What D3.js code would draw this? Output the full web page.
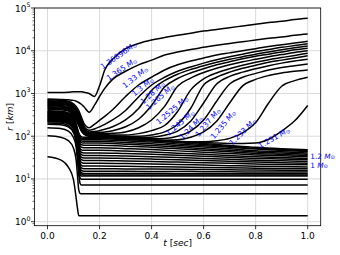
<!DOCTYPE html>
<html>
<head>
<meta charset="utf-8">
<title>Shell radii</title>
<script src="https://d3js.org/d3.v7.min.js"></script>
<style>
  body { margin: 0; background: #fff; }
  text { font-family: "DejaVu Sans", sans-serif; }
</style>
</head>
<body>
<script>
// time samples [sec]
var tOuter = [0, 0.05, 0.08, 0.1, 0.11, 0.12, 0.13, 0.14, 0.16, 0.18, 0.2, 0.22, 0.25, 0.3, 0.35, 0.4,
              0.45, 0.5, 0.55, 0.6, 0.65, 0.7, 0.75, 0.8, 0.85, 0.9, 0.95, 1.0];
var tInner = [0, 0.05, 0.08, 0.1, 0.11, 0.115, 0.12, 0.125, 0.13, 0.14, 0.16, 0.2, 0.3, 0.4, 0.5, 0.6,
              0.7, 0.8, 0.9, 1.0];

// outer shells that get ejected, radius in km (outermost first)
var outerShells = [
  [1050, 1050, 1070, 1100, 1100, 1100, 1100, 1070, 1000, 850, 1510, 3550, 6300, 11200, 14800, 17800, 20400, 22900, 25700, 28800, 31600, 34700, 38000, 41700, 45700, 49000, 53700, 57500],
  [740, 725, 710, 690, 660, 615, 560, 490, 365, 525, 850, 1320, 2140, 3310, 4680, 6030, 7940, 9330, 10700, 12000, 13500, 14800, 16200, 17800, 19500, 20900, 22900, 24500],
  [710, 690, 660, 575, 500, 400, 280, 200, 158, 190, 235, 290, 415, 850, 1580, 2400, 3550, 4680, 5750, 6760, 7940, 8910, 10000, 11200, 12600, 13800, 15100, 16600],
  [675, 660, 630, 535, 455, 355, 250, 178, 138, 148, 166, 190, 240, 400, 830, 1580, 2400, 3310, 4170, 5130, 6170, 7240, 8320, 9550, 10700, 12000, 13200, 14500],
  [645, 630, 600, 500, 425, 330, 230, 158, 126, 129, 135, 145, 166, 240, 445, 1180, 2000, 2820, 3630, 4470, 5370, 6310, 7240, 8320, 9330, 10500, 11700, 12900],
  [615, 605, 575, 470, 400, 300, 210, 148, 120, 120, 123, 126, 135, 166, 250, 525, 1410, 2240, 3020, 3800, 4680, 5500, 6460, 7410, 8320, 9330, 10500, 11500],
  [590, 575, 550, 435, 365, 275, 190, 138, 117, 115, 115, 115, 117, 126, 158, 240, 500, 1480, 2290, 3090, 3890, 4680, 5500, 6310, 7240, 8130, 9120, 10000],
  [560, 550, 525, 405, 340, 257, 178, 132, 115, 112, 110, 110, 107, 107, 115, 135, 178, 380, 1200, 2190, 3020, 3800, 4570, 5370, 6170, 6920, 7760, 8710],
  [537, 525, 500, 380, 316, 240, 166, 126, 112, 110, 107, 105, 102, 100, 100, 107, 126, 190, 445, 1580, 2400, 3160, 3890, 4570, 5370, 6030, 6760, 7590],
  [513, 500, 468, 355, 295, 224, 158, 123, 110, 107, 105, 102, 100, 95, 93, 95, 105, 132, 224, 600, 1660, 2510, 3160, 3800, 4470, 5130, 5750, 6310],
  [490, 480, 447, 330, 275, 209, 151, 120, 107, 105, 102, 100, 98, 93, 89, 87, 89, 100, 132, 240, 660, 1660, 2400, 2950, 3550, 4070, 4470, 4900],
  [468, 457, 427, 316, 257, 200, 145, 117, 105, 102, 100, 98, 95, 91, 87, 83, 81, 83, 95, 126, 224, 600, 1510, 2140, 2630, 3020, 3310, 3550],
  [447, 437, 407, 295, 240, 186, 138, 115, 102, 100, 98, 95, 93, 89, 85, 81, 78, 76, 74, 74, 78, 89, 120, 209, 600, 1480, 2000, 2400],
  [427, 417, 389, 282, 229, 178, 132, 112, 100, 98, 95, 93, 91, 87, 83, 79, 76, 74, 72, 71, 69, 68, 68, 69, 85, 132, 229, 525]
];

// inner shells that stay bound, radius in km (innermost first)
var innerShells = [
  [33, 28, 19, 9.5, 3.6, 2.1, 1.38, 1.38, 1.38, 1.38, 1.38, 1.38, 1.38, 1.38, 1.38, 1.38, 1.38, 1.38, 1.38, 1.38],
  [102, 95, 79, 52, 28, 12.6, 5.6, 4.6, 4.5, 4.5, 4.5, 4.5, 4.5, 4.5, 4.5, 4.5, 4.5, 4.5, 4.5, 4.5],
  [158, 151, 132, 93, 56, 28, 12.6, 7.9, 7.2, 7.2, 7.2, 7.2, 7.2, 7.2, 7.2, 7.2, 7.2, 7.2, 7.2, 7.2],
  [191, 186, 166, 120, 76, 40, 17.8, 10.7, 9.8, 9.8, 9.8, 9.8, 9.8, 9.8, 9.8, 9.8, 9.8, 9.8, 9.8, 9.8],
  [204, 200, 178, 132, 85, 48, 21.4, 12.6, 11.7, 11.7, 11.7, 11.7, 11.7, 11.7, 11.7, 11.7, 11.7, 11.7, 11.7, 11.7],
  [219, 214, 195, 148, 71, 38, 21.4, 15.1, 12.9, 12.3, 12.3, 12.3, 12.3, 12.3, 12.3, 12.3, 12.3, 12.3, 12.3, 12.3],
  [226, 221, 202, 153, 74, 40, 22.9, 16.4, 14.1, 13.5, 13.5, 13.5, 13.5, 13.5, 13.3, 13.3, 13.2, 13.2, 13.2, 13.2],
  [234, 229, 209, 158, 78, 44, 25.1, 18.2, 15.8, 15.1, 15.1, 15.1, 15.1, 15.0, 14.9, 14.8, 14.7, 14.6, 14.5, 14.5],
  [243, 237, 216, 164, 83, 48, 28.5, 20.9, 18.2, 17.4, 17.4, 17.4, 17.2, 17.1, 16.8, 16.6, 16.4, 16.1, 16.0, 15.8],
  [251, 245, 224, 170, 89, 52, 32, 23.7, 20.9, 20.0, 20.0, 20.0, 19.7, 19.4, 19.0, 18.6, 18.2, 17.9, 17.6, 17.4],
  [260, 254, 232, 176, 95, 58, 36.3, 27.5, 24.5, 23.4, 23.4, 23.4, 23.0, 22.5, 21.8, 21.1, 20.5, 19.9, 19.5, 19.1],
  [269, 263, 240, 182, 102, 63, 40.7, 31.6, 28.2, 26.9, 26.9, 26.9, 26.3, 25.7, 24.8, 24.0, 23.2, 22.4, 21.9, 21.4],
  [279, 272, 248, 188, 110, 69, 45.7, 35.5, 32.4, 30.9, 30.9, 30.9, 30.1, 29.2, 28.1, 26.9, 25.8, 24.8, 24.1, 23.4],
  [288, 282, 257, 195, 117, 76, 51, 40.7, 37.2, 35.5, 35.5, 35.5, 34.4, 33.3, 31.7, 30.2, 28.8, 27.4, 26.5, 25.7],
  [299, 292, 266, 202, 126, 83, 58, 46.2, 42.2, 40.7, 40.7, 40.7, 39.3, 37.8, 35.8, 33.9, 32.1, 30.3, 29.2, 28.2],
  [309, 302, 275, 209, 133, 91, 65, 52, 48, 46.8, 46.8, 46.8, 44.8, 42.9, 40.1, 37.6, 35.2, 33.0, 31.6, 30.2],
  [320, 313, 285, 216, 141, 100, 72, 60, 55, 53.7, 53.7, 53.7, 51.2, 48.8, 45.4, 42.2, 39.3, 36.5, 34.8, 33.1],
  [331, 324, 295, 224, 151, 110, 81, 68, 63, 61.7, 61.7, 61.7, 58.3, 55.2, 50.8, 46.8, 43.1, 39.6, 37.5, 35.5],
  [343, 335, 305, 232, 162, 120, 90, 76, 71, 69, 69, 69, 65, 61, 56, 51, 47, 43, 40.4, 38],
  [355, 347, 316, 240, 170, 127, 98, 83, 78, 76, 76, 76, 71, 67, 61, 56, 51, 46, 43.4, 40.7],
  [367, 359, 327, 248, 178, 135, 106, 91, 85, 83, 83, 83, 78, 73, 66, 60, 55, 50, 46.6, 43.7],
  [380, 372, 339, 257, 186, 145, 112, 98, 91, 89, 89, 89, 83, 78, 71, 64, 58, 52, 49, 45.7],
  [394, 385, 351, 266, 195, 151, 120, 104, 98, 95, 95, 95, 89, 83, 75, 68, 61, 55, 51, 48]
];

// mass labels (M_sun) and where they sit (t, r)
var massLabels = ["1.36896", "1.365", "1.33", "1.3", "1.28", "1.265", "1.2525", "1.245", "1.24", "1.237", "1.235", "1.233", "1.231"];
var labelT = [0.272, 0.284, 0.336, 0.365, 0.403, 0.432, 0.478, 0.509, 0.551, 0.615, 0.674, 0.749, 0.87];
var labelR = [7950, 3800, 2450, 1480, 1070, 850, 415, 210, 162, 215, 190, 130, 94];
var labelAngle = [35, 34, 38, 39, 42, 41, 40, 40, 45, 50, 50, 45, 30];

var sideLabels = ["1.2", "1"];
var sideT = [1.01, 1.01];
var sideR = [34, 21];

var xTicks = [0, 0.2, 0.4, 0.6, 0.8, 1.0];
var yTicks = [1, 10, 100, 1000, 10000, 100000];

var width = 340, height = 255;
var plotL = 34.5, plotR = 320.7, plotT = 8, plotB = 225.7;

var svg = d3.select("body").append("svg")
  .attr("width", width).attr("height", height);

var x = d3.scaleLinear().domain([-0.05, 1.05]).range([plotL, plotR]);
var y = d3.scaleLog().domain([0.806, 1e5]).range([plotB, plotT]);

// grid
svg.append("g").selectAll("line").data(xTicks).enter().append("line")
  .attr("x1", d => x(d)).attr("x2", d => x(d))
  .attr("y1", plotT).attr("y2", plotB)
  .attr("stroke", "#d0d0d0").attr("stroke-width", 0.8);
svg.append("g").selectAll("line").data(yTicks).enter().append("line")
  .attr("x1", plotL).attr("x2", plotR)
  .attr("y1", d => y(d)).attr("y2", d => y(d))
  .attr("stroke", "#d0d0d0").attr("stroke-width", 0.8);

svg.append("clipPath").attr("id", "plotArea").append("rect")
  .attr("x", plotL).attr("y", plotT).attr("width", plotR - plotL).attr("height", plotB - plotT);

function pairs(ts, rs) { return ts.map((t, i) => [t, rs[i]]); }

var line = d3.line()
  .x(d => x(d[0])).y(d => y(d[1]))
  .curve(d3.curveMonotoneX);

var curves = svg.append("g").attr("clip-path", "url(#plotArea)");
curves.selectAll("path.inner").data(innerShells).enter().append("path")
  .attr("class", "inner")
  .attr("d", d => line(pairs(tInner, d)))
  .attr("fill", "none").attr("stroke", "#000").attr("stroke-width", 1.5);
curves.selectAll("path.outer").data(outerShells).enter().append("path")
  .attr("class", "outer")
  .attr("d", d => line(pairs(tOuter, d)))
  .attr("fill", "none").attr("stroke", "#000").attr("stroke-width", 1.5);

// frame
svg.append("rect")
  .attr("x", plotL).attr("y", plotT).attr("width", plotR - plotL).attr("height", plotB - plotT)
  .attr("fill", "none").attr("stroke", "#000").attr("stroke-width", 0.8);

// x axis
var xAxis = svg.append("g");
xAxis.selectAll("line").data(xTicks).enter().append("line")
  .attr("x1", d => x(d)).attr("x2", d => x(d))
  .attr("y1", plotB).attr("y2", plotB + 3.5)
  .attr("stroke", "#000").attr("stroke-width", 0.8);
xAxis.selectAll("text").data(xTicks).enter().append("text")
  .attr("x", d => x(d)).attr("y", plotB + 13)
  .attr("text-anchor", "middle").attr("font-size", "9px").attr("fill", "#000")
  .text(d => d3.format(".1f")(d));

// y axis, major and minor ticks
var yAxis = svg.append("g");
var minor = [];
[0.1, 1, 10, 100, 1000, 10000].forEach(function (p) {
  for (var k = 2; k <= 9; k++) { if (p * k >= 0.806 && p * k <= 1e5) minor.push(p * k); }
});
yAxis.selectAll("line.minor").data(minor).enter().append("line")
  .attr("class", "minor")
  .attr("x1", plotL - 2).attr("x2", plotL)
  .attr("y1", d => y(d)).attr("y2", d => y(d))
  .attr("stroke", "#000").attr("stroke-width", 0.6);
yAxis.selectAll("line.major").data(yTicks).enter().append("line")
  .attr("class", "major")
  .attr("x1", plotL - 3.5).attr("x2", plotL)
  .attr("y1", d => y(d)).attr("y2", d => y(d))
  .attr("stroke", "#000").attr("stroke-width", 0.8);
var yl = yAxis.selectAll("text").data(yTicks).enter().append("text")
  .attr("x", plotL - 4).attr("y", d => y(d) + 3.5)
  .attr("text-anchor", "end").attr("font-size", "9px").attr("fill", "#000");
yl.append("tspan").text("10");
yl.append("tspan").attr("dy", -4.5).attr("font-size", "6.3px").text(d => Math.round(Math.log10(d)));

// axis titles
var xt = svg.append("text").attr("x", (plotL + plotR) / 2).attr("y", 246)
  .attr("text-anchor", "middle").attr("font-size", "9px");
xt.append("tspan").attr("font-style", "italic").text("t");
xt.append("tspan").text(" [");
xt.append("tspan").attr("font-style", "italic").text("sec");
xt.append("tspan").text("]");

var yt = svg.append("text").attr("transform", "translate(13," + ((plotT + plotB) / 2) + ") rotate(-90)")
  .attr("text-anchor", "middle").attr("font-size", "9px");
yt.append("tspan").attr("font-style", "italic").text("r");
yt.append("tspan").text(" [");
yt.append("tspan").attr("font-style", "italic").text("km");
yt.append("tspan").text("]");

// mass labels
function massText(sel, num, gap, sub) {
  sel.append("tspan").text(num + gap);
  sel.append("tspan").attr("font-style", "italic").text("M");
  sel.append("tspan").attr("font-size", "5.3px").attr("dy", sub).text("\u2299");
}
massLabels.forEach(function (m, i) {
  var g = svg.append("text")
    .attr("transform", "translate(" + x(labelT[i]) + "," + y(labelR[i]) + ") rotate(" + (-labelAngle[i]) + ")")
    .attr("text-anchor", "middle").attr("dominant-baseline", "central")
    .attr("font-size", "7.5px").attr("fill", "#0000ff");
  massText(g, m, i === 0 ? "" : " ", 1.8);
});
sideLabels.forEach(function (m, i) {
  var g = svg.append("text")
    .attr("x", x(sideT[i])).attr("y", y(sideR[i]))
    .attr("dominant-baseline", "central")
    .attr("font-size", "7.3px").attr("fill", "#0000ff");
  massText(g, m, " ", 1.2);
});
</script>
</body>
</html>
